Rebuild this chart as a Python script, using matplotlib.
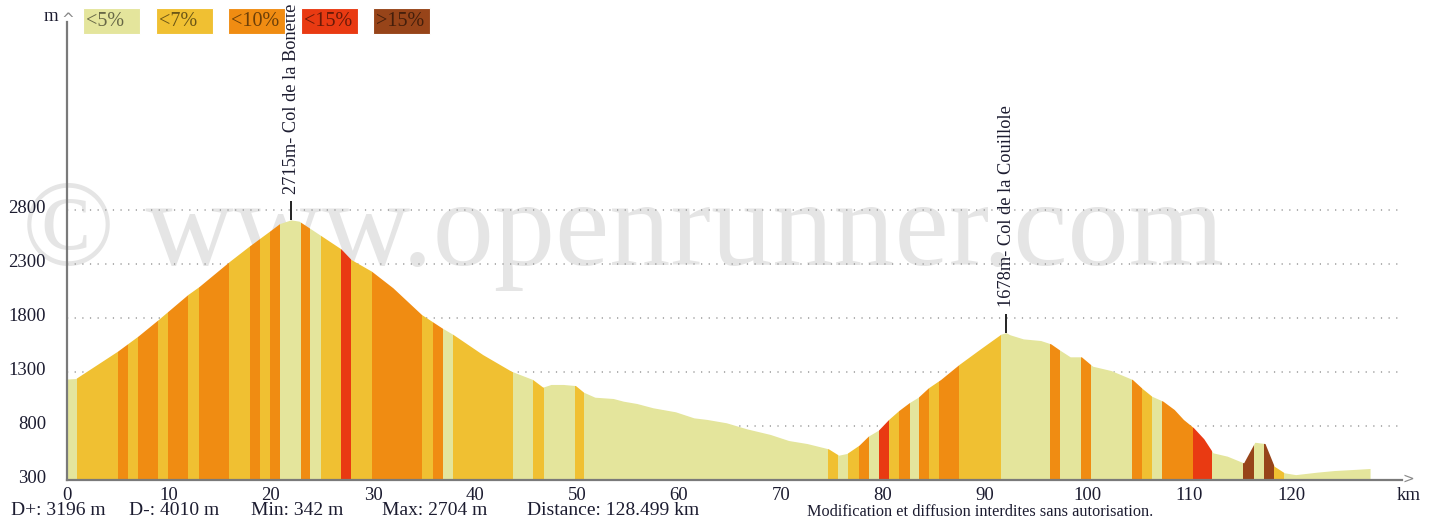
import numpy as np
import matplotlib
matplotlib.use("Agg")
import matplotlib.pyplot as plt
from matplotlib.patches import Polygon, Rectangle
import matplotlib.transforms as mtransforms

# ---------------- data ----------------
km = [0.0, 0.9, 5.0, 7.0, 9.0, 11.9, 13.0, 16.0, 17.9, 19.9, 20.9, 22.0, 22.8, 23.8,
      26.9, 27.9, 29.9, 32.0, 34.8, 36.8, 37.9, 40.8, 43.6, 45.7, 46.7, 47.5, 48.7,
      49.9, 50.7, 51.8, 53.6, 54.6, 55.9, 57.5, 59.7, 61.5, 62.8, 64.7, 66.7, 69.0,
      70.8, 72.6, 74.7, 75.7, 76.5, 77.7, 78.6, 79.6, 80.6, 81.6, 82.6, 83.5, 84.5,
      85.7, 87.5, 89.6, 91.6, 92.1, 92.5, 93.8, 95.5, 96.5, 97.4, 98.4, 99.5, 100.6,
      102.4, 104.5, 105.5, 106.4, 107.5, 108.6, 109.5, 110.5, 111.5, 112.4, 113.8,
      115.4, 116.5, 117.5, 118.4, 119.4, 120.5, 122.6, 124.3, 126.2, 127.8]
elev = [1230, 1235, 1488, 1627, 1781, 2013, 2087, 2321, 2460, 2599, 2670, 2704, 2692, 2630,
        2436, 2337, 2229, 2075, 1828, 1704, 1643, 1457, 1303, 1226, 1155, 1180, 1180,
        1170, 1108, 1062, 1050, 1025, 1004, 964, 927, 871, 856, 825, 769, 717,
        661, 633, 584, 525, 541, 618, 701, 757, 856, 939, 1010, 1062, 1149,
        1226, 1365, 1510, 1645, 1660, 1640, 1602, 1587, 1556, 1497, 1436, 1436, 1349,
        1309, 1226, 1140, 1071, 1025, 948, 856, 779, 677, 547, 516,
        454, 645, 633, 423, 362, 345, 368, 383, 393, 402]

# grade bands: start km and grade class (0:<5%, 1:<7%, 2:<10%, 3:<15%, 4:>15%)
band_start = [0.0, 0.95, 5.0, 6.0, 7.0, 8.95, 9.93, 11.9, 12.97, 15.9, 17.94, 18.92,
              19.9, 20.88, 22.9, 23.8, 24.87, 26.9, 27.8, 29.87, 34.77, 35.85, 36.83,
              37.8, 43.7, 45.7, 46.76, 49.8, 50.7, 74.6, 75.6, 76.6, 77.6, 78.6, 79.6,
              80.6, 81.6, 82.6, 83.5, 84.5, 85.5, 87.5, 91.6, 96.4, 97.4, 99.4, 100.4,
              104.4, 105.4, 106.4, 107.4, 110.4, 112.3, 115.3, 116.4, 117.4, 118.3, 119.3]
band_grade = [0, 1, 2, 1, 2, 1, 2, 1, 2, 1, 2, 1,
              2, 0, 2, 0, 1, 3, 1, 2, 1, 2, 0,
              1, 0, 1, 0, 1, 0, 1, 0, 1, 2, 0, 3,
              1, 2, 0, 2, 1, 2, 1, 0, 2, 0, 2, 0,
              2, 1, 0, 2, 3, 0, 4, 0, 4, 1, 0]

grade_labels = ['<5%', '<7%', '<10%', '<15%', '>15%']
grade_colors = ['#E4E59C', '#F0C032', '#F08C12', '#E93A12', '#974419']

y_ticks = [300, 800, 1300, 1800, 2300, 2800]
x_ticks = list(range(0, 121, 10))
peak_labels = ['2715m- Col de la Bonette', '1678m- Col de la Couillole']
stats = ['D+: 3196 m', 'D-: 4010 m', 'Min: 342 m', 'Max: 2704 m', 'Distance: 128.499 km']
notice = 'Modification et diffusion interdites sans autorisation.'
watermark = '\u00a9 www.openrunner.com'

# ---------------- layout ----------------
W, H = 1439, 522
SERIF = 'Liberation Serif'
TXT = '#1c1c30'
fig = plt.figure(figsize=(W / 100, H / 100), dpi=100)
fig.patch.set_facecolor('white')

AX_L, AX_R, AX_T, AX_B = 67, 1402, 22, 480
PX_PER_KM = 10.2
PX_PER_M = 54 / 500
ax = fig.add_axes([AX_L / W, (H - AX_B) / H, (AX_R - AX_L) / W, (AX_B - AX_T) / H])
ax.set_xlim(0, (AX_R - AX_L) / PX_PER_KM)
ax.set_ylim(300, 300 + (AX_B - AX_T) / PX_PER_M)
ax.patch.set_alpha(0)

for s in ['top', 'right']:
    ax.spines[s].set_visible(False)
for s in ['left', 'bottom']:
    ax.spines[s].set_color('#7a7a7a')
    ax.spines[s].set_linewidth(1.6)
    ax.spines[s].set_zorder(5)

# watermark (behind everything)
ax.text(22 / W, 1 - 265 / H, watermark, transform=fig.transFigure, fontsize=88,
        family=SERIF, color='#e5e5e5', ha='left', va='baseline', zorder=0.2, clip_on=False)

# dotted gridlines
for yv in y_ticks[1:]:
    ax.axhline(yv, color='#9a9a9a', lw=1.1, ls=(0, (0.8, 4.2)), zorder=1)

# profile polygon used as clip
verts = [(km[0], 300)] + list(zip(km, elev)) + [(km[-1], 300)]
poly = Polygon(verts, closed=True, transform=ax.transData, facecolor='none', edgecolor='none')
ax.add_patch(poly)
band_end = band_start[1:] + [km[-1]]
for s, e, g in zip(band_start, band_end, band_grade):
    sp = ax.axvspan(s, e, color=grade_colors[g], lw=0, zorder=2)
    sp.set_clip_path(poly)

# peaks
km_a = np.array(km)
el_a = np.array(elev)
i1 = int(np.argmax(el_a))
mask2 = km_a > 60
i2 = int(np.where(mask2)[0][np.argmax(el_a[mask2])])
for idx, lab in zip([i1, i2], peak_labels):
    pk, pe = km_a[idx], el_a[idx]
    ax.plot([pk, pk], [pe, pe + 19 / PX_PER_M], color='#111111', lw=1.3, zorder=3,
            solid_capstyle='butt')
    ax.annotate(lab, xy=(pk, pe), xytext=(0, 26 * 0.72), textcoords='offset points',
                rotation=90, ha='center', va='bottom', fontsize=13.2, family=SERIF,
                color=TXT, zorder=6, annotation_clip=False)

# ticks
ax.set_yticks([])
ax.set_xticks(x_ticks)
ax.set_xticklabels([str(v) for v in x_ticks], fontsize=13.5, family=SERIF, color=TXT)
ax.tick_params(axis='x', length=0, pad=5)
ytr = mtransforms.blended_transform_factory(fig.transFigure, ax.transData)
for yv in y_ticks:
    t = ax.text(46 / W, yv, str(yv), transform=ytr, ha='right', va='baseline',
                fontsize=13.5, family=SERIF, color=TXT, clip_on=False)
    t.set_transform(ytr + mtransforms.ScaledTranslation(0, -3 / 100, fig.dpi_scale_trans))

# axis decorations
fig.text(58 / W, 1 - 21 / H, 'm', ha='right', va='baseline', fontsize=13.5, family=SERIF, color=TXT)
fig.text(68 / W, 1 - 24 / H, '^', ha='center', va='baseline', fontsize=11, family='DejaVu Sans', color='#888888')
fig.text(1408 / W, 1 - 483 / H, '>', ha='center', va='baseline', fontsize=10, family='DejaVu Sans', color='#888888')
fig.text(1409 / W, 1 - 500 / H, 'km', ha='center', va='baseline', fontsize=13.5, family=SERIF, color=TXT)

# legend boxes
box_x = [83, 156, 228, 301, 373]
for bx, lab, col in zip(box_x, grade_labels, grade_colors):
    fig.patches.append(Rectangle((bx / W, 1 - 34 / H), 57 / W, 26 / H, transform=fig.transFigure,
                                 facecolor=col, edgecolor='#ffffff', lw=0.8, alpha=1.0))
    fig.text((bx + 3) / W, 1 - 21 / H, lab, ha='left', va='center', fontsize=14.5,
             family=SERIF, color='black', alpha=0.55)

# bottom stats
stat_x = [11, 129, 251, 382, 527]
for sx, st in zip(stat_x, stats):
    fig.text(sx / W, 1 - 515 / H, st, ha='left', va='baseline', fontsize=14, family=SERIF, color=TXT)
fig.text(980 / W, 1 - 516 / H, notice, ha='center', va='baseline', fontsize=11.7, family=SERIF, color=TXT)

fig.savefig('out.png', dpi=100, facecolor='white')
